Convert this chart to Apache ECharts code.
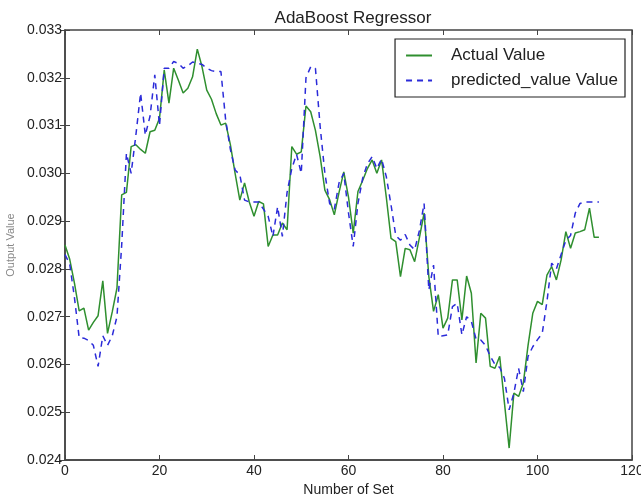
<!DOCTYPE html>
<html>
<head>
<meta charset="utf-8">
<script src="https://cdn.jsdelivr.net/npm/echarts@6/dist/echarts.min.js"></script>
<style>
  html, body { margin: 0; padding: 0; background: #fff; }
  #chart { width: 641px; height: 499px; }
</style>
</head>
<body>
<div id="chart"></div>
<script>
// values, index 0..113
var actualValue = [
  0.02850, 0.02820, 0.02770, 0.02712, 0.02718, 0.02672, 0.02688, 0.02702, 0.02775, 0.02665,
  0.02710, 0.02760, 0.02955, 0.02960, 0.03056, 0.03060, 0.03050, 0.03042, 0.03087, 0.03090,
  0.03115, 0.03216, 0.03147, 0.03220, 0.03195, 0.03168, 0.03178, 0.03202, 0.03260, 0.03223,
  0.03174, 0.03155, 0.03125, 0.03101, 0.03105, 0.03060, 0.03000, 0.02944, 0.02980, 0.02940,
  0.02910, 0.02941, 0.02936, 0.02847, 0.02871, 0.02871, 0.02896, 0.02882, 0.03056, 0.03040,
  0.03045, 0.03141, 0.03129, 0.03090, 0.03035, 0.02965, 0.02945, 0.02913, 0.02960, 0.03003,
  0.02950, 0.02875, 0.02962, 0.02985, 0.03010, 0.03028, 0.03000, 0.03028, 0.02950, 0.02864,
  0.02857, 0.02784, 0.02843, 0.02840, 0.02815, 0.02865, 0.02917, 0.02784, 0.02711, 0.02746,
  0.02676, 0.02697, 0.02777, 0.02777, 0.02693, 0.02785, 0.02749, 0.02603, 0.02707, 0.02697,
  0.02596, 0.02592, 0.02617, 0.02520, 0.02425, 0.02540, 0.02533, 0.02561, 0.02640, 0.02707,
  0.02732, 0.02725, 0.02787, 0.02805, 0.02777, 0.02819, 0.02878, 0.02843, 0.02875, 0.02878,
  0.02882, 0.02927, 0.02866, 0.02866
];
var predictedValue = [
  0.02830, 0.02810, 0.02740, 0.02656, 0.02655, 0.02650, 0.02640, 0.02596, 0.02660, 0.02640,
  0.02660, 0.02700, 0.02850, 0.03042, 0.03000, 0.03080, 0.03168, 0.03080, 0.03120, 0.03206,
  0.03100, 0.03220, 0.03220, 0.03234, 0.03230, 0.03220, 0.03225, 0.03233, 0.03230, 0.03228,
  0.03220, 0.03215, 0.03213, 0.03213, 0.03112, 0.03050, 0.03007, 0.02997, 0.02944, 0.02940,
  0.02940, 0.02940, 0.02925, 0.02910, 0.02868, 0.02930, 0.02868, 0.02960, 0.03010, 0.03040,
  0.03000, 0.03200, 0.03223, 0.03220, 0.03098, 0.03000, 0.02937, 0.02925, 0.02980, 0.03000,
  0.02917, 0.02847, 0.02937, 0.02990, 0.03020, 0.03035, 0.03010, 0.03030, 0.02993, 0.02934,
  0.02870, 0.02860, 0.02872, 0.02850, 0.02840, 0.02880, 0.02937, 0.02756, 0.02808, 0.02658,
  0.02660, 0.02662, 0.02721, 0.02728, 0.02662, 0.02700, 0.02690, 0.02653, 0.02651, 0.02640,
  0.02617, 0.02600, 0.02594, 0.02571, 0.02505, 0.02540, 0.02592, 0.02543, 0.02617, 0.02637,
  0.02652, 0.02665, 0.02732, 0.02812, 0.02800, 0.02830, 0.02860, 0.02870, 0.02917, 0.02937,
  0.02940, 0.02940, 0.02940, 0.02940
];

function toPairs(arr) {
  var out = [];
  for (var i = 0; i < arr.length; i++) out.push([i, arr[i]]);
  return out;
}

var font = 'Liberation Sans, Arial, sans-serif';
var myChart = echarts.init(document.getElementById('chart'));
var option = {
  animation: false,
  title: {
    text: 'AdaBoost Regressor',
    left: 348, textAlign: 'center',
    top: 5,
    textStyle: { fontFamily: font, fontSize: 17, fontWeight: 'normal', color: '#222' }
  },
  grid: {
    left: 65, right: 9, top: 30, bottom: 39,
    outerBoundsMode: 'none', containLabel: false,
    show: true, borderColor: '#444', borderWidth: 1.5
  },
  legend: {
    right: 16, top: 39,
    orient: 'vertical',
    itemWidth: 26, itemHeight: 14, itemGap: 8,
    padding: [8, 7, 8, 10],
    borderColor: '#222', borderWidth: 1.2,
    itemStyle: { opacity: 0 },
    textStyle: { fontFamily: font, fontSize: 17, color: '#222', padding: [0, 0, 0, 14] },
    data: ['Actual Value', 'predicted_value Value']
  },
  xAxis: [{
    type: 'value', min: 0, max: 120, interval: 20,
    name: 'Number of Set', nameLocation: 'middle', nameGap: 22,
    nameTextStyle: { fontFamily: font, fontSize: 14, color: '#222' },
    axisLine: { show: true, lineStyle: { color: '#444', width: 1.5 } },
    axisTick: { inside: true, length: 5, lineStyle: { color: '#444' } },
    axisLabel: { fontFamily: font, fontSize: 14, color: '#222', margin: 4 },
    splitLine: { show: false }
  }, {
    type: 'value', min: 0, max: 120, interval: 20, position: 'top',
    axisLine: { show: false },
    axisTick: { inside: true, length: 5, lineStyle: { color: '#444' } },
    axisLabel: { show: false },
    splitLine: { show: false }
  }],
  yAxis: [{
    type: 'value', min: 0.024, max: 0.033, interval: 0.001,
    name: 'Output Value', nameLocation: 'middle', nameGap: 48,
    nameTextStyle: { fontFamily: font, fontSize: 11, color: '#888' },
    axisLine: { show: true, lineStyle: { color: '#444', width: 1.5 } },
    axisTick: { inside: true, length: 5, lineStyle: { color: '#444' } },
    axisLabel: { fontFamily: font, fontSize: 14, color: '#222', margin: 3,
      formatter: function (v) { return v.toFixed(3); } },
    splitLine: { show: false }
  }, {
    type: 'value', min: 0.024, max: 0.033, interval: 0.001, position: 'right',
    axisLine: { show: false },
    axisTick: { inside: true, length: 5, lineStyle: { color: '#444' } },
    axisLabel: { show: false },
    splitLine: { show: false }
  }],
  series: [
    {
      name: 'Actual Value',
      type: 'line',
      data: toPairs(actualValue),
      symbol: 'none',
      color: '#2f8f2f',
      lineStyle: { color: '#2f8f2f', width: 1.5 }
    },
    {
      name: 'predicted_value Value',
      type: 'line',
      data: toPairs(predictedValue),
      symbol: 'none',
      color: '#2b2bd9',
      lineStyle: { color: '#2b2bd9', width: 1.5, type: [6, 5] }
    }
  ]
};
myChart.setOption(option);
</script>
</body>
</html>
